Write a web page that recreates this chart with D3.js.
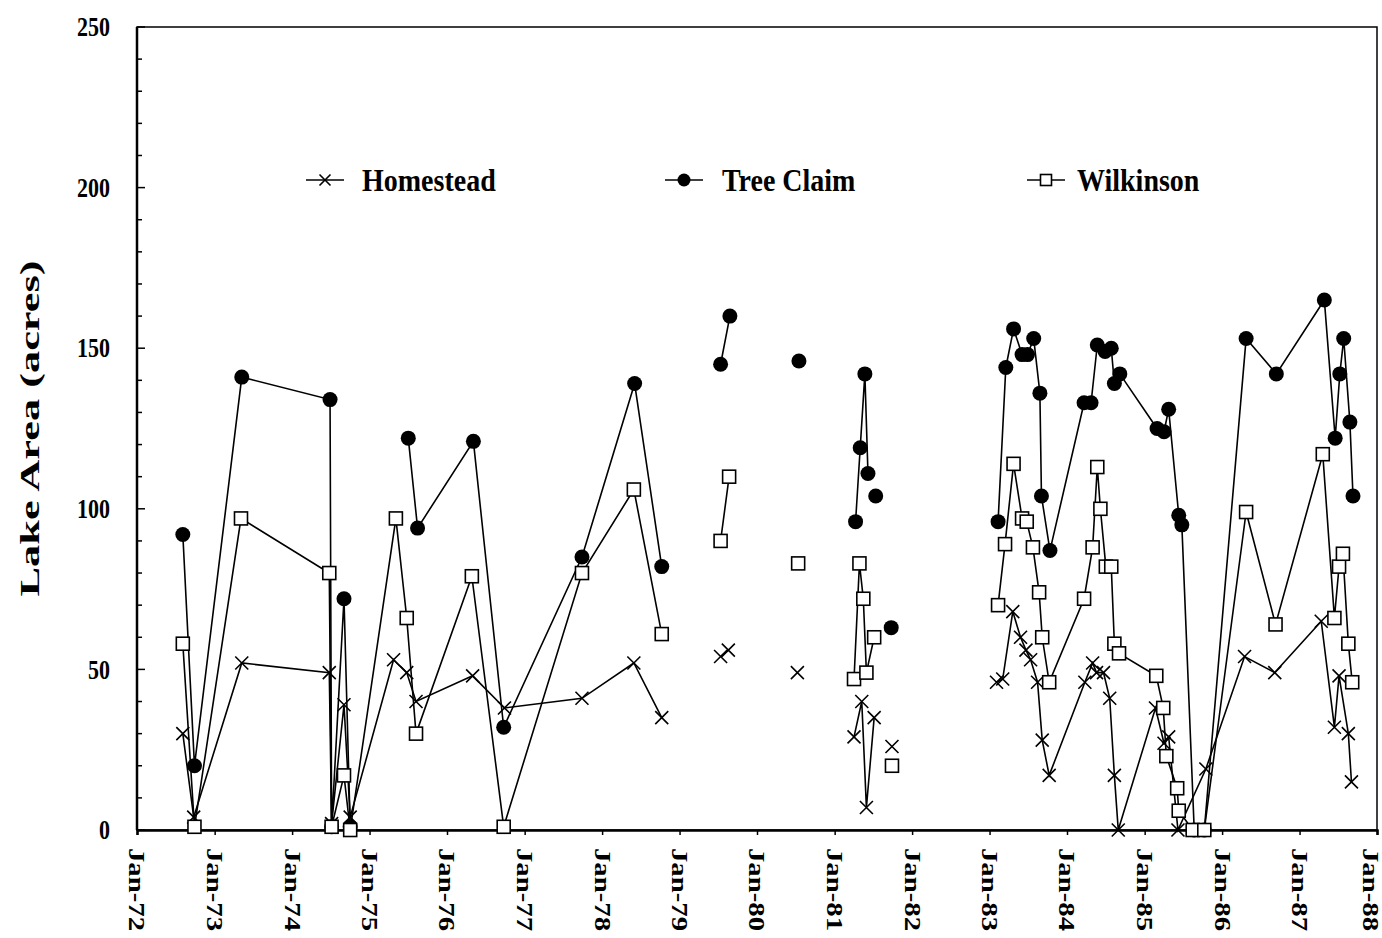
<!DOCTYPE html>
<html>
<head>
<meta charset="utf-8">
<script src="https://cdn.jsdelivr.net/npm/d3@7"></script>
<style>
  body { margin: 0; background: #fff; }
  text { font-family: "Liberation Serif", "Times New Roman", serif; font-weight: bold; fill: #000; }
</style>
</head>
<body>
<div id="chart"></div>
<script>
var width = 1382;
var height = 938;

// survey dates as decimal years, null = gap in the line
var homesteadDates = [1972.59, 1972.73, 1973.35, 1974.48, 1974.51, 1974.67, 1974.75, 1975.31, 1975.48, 1975.60, 1976.33, 1976.74, 1977.74, 1978.41, 1978.77, null,
  1979.53, 1979.63, null,
  1980.52, null,
  1981.25, 1981.35, 1981.41, 1981.51, null,
  1981.74, null,
  1983.09, 1983.17, 1983.30, 1983.40, 1983.47, 1983.53, 1983.62, 1983.68, 1983.77, 1984.23, 1984.33, 1984.38, 1984.47, 1984.55, 1984.61, 1984.66,
  1985.14, 1985.25, 1985.31, 1985.43, 1985.79, 1986.29, 1986.68, 1987.28, 1987.45, 1987.51, 1987.63, 1987.67];
var homesteadAcres = [30, 4, 52, 49, 2, 39, 4, 53, 49, 40, 48, 38, 41, 52, 35, null,
  54, 56, null,
  49, null,
  29, 40, 7, 35, null,
  26, null,
  46, 47, 68, 60, 56, 53, 46, 28, 17, 46, 52, 49, 49, 41, 17, 0,
  38, 27, 29, 0, 19, 54, 49, 65, 32, 48, 30, 15];

var treeClaimDates = [1972.59, 1972.74, 1973.35, 1974.49, 1974.51, 1974.67, 1974.75, null,
  1975.50, 1975.62, 1976.34, 1976.73, 1977.74, 1978.42, 1978.77, null,
  1979.53, 1979.65, null,
  1980.54, null,
  1981.27, 1981.33, 1981.39, 1981.43, null,
  1981.53, null,
  1981.73, null,
  1983.11, 1983.21, 1983.31, 1983.42, 1983.49, 1983.57, 1983.65, 1983.67, 1983.78, 1984.22, 1984.31, 1984.39, 1984.49, 1984.57, 1984.61, 1984.68,
  1985.16, 1985.25, 1985.31, 1985.44, 1985.48, 1985.64, 1985.77, 1986.31, 1986.70, 1987.32, 1987.46, 1987.52, 1987.57, 1987.65, 1987.69];
var treeClaimAcres = [92, 20, 141, 134, 1, 72, 1, null,
  122, 94, 121, 32, 85, 139, 82, null,
  145, 160, null,
  146, null,
  96, 119, 142, 111, null,
  104, null,
  63, null,
  96, 144, 156, 148, 148, 153, 136, 104, 87, 133, 133, 151, 149, 150, 139, 142,
  125, 124, 131, 98, 95, 0, 0, 153, 142, 165, 122, 142, 153, 127, 104];

var wilkinsonDates = [1972.59, 1972.74, 1973.34, 1974.48, 1974.51, 1974.67, 1974.75, 1975.34, 1975.48, 1975.60, 1976.32, 1976.73, 1977.74, 1978.41, 1978.77, null,
  1979.53, 1979.64, null,
  1980.53, null,
  1981.25, 1981.32, 1981.37, 1981.41, 1981.51, null,
  1981.74, null,
  1983.11, 1983.20, 1983.31, 1983.42, 1983.48, 1983.56, 1983.64, 1983.68, 1983.77, 1984.22, 1984.33, 1984.39, 1984.43, 1984.50, 1984.57, 1984.61, 1984.67,
  1985.15, 1985.24, 1985.28, 1985.42, 1985.44, 1985.62, 1985.77, 1986.31, 1986.69, 1987.30, 1987.45, 1987.51, 1987.56, 1987.63, 1987.68];
var wilkinsonAcres = [58, 1, 97, 80, 1, 17, 0, 97, 66, 30, 79, 1, 80, 106, 61, null,
  90, 110, null,
  83, null,
  47, 83, 72, 49, 60, null,
  20, null,
  70, 89, 114, 97, 96, 88, 74, 60, 46, 72, 88, 113, 100, 82, 82, 58, 55,
  48, 38, 23, 13, 6, 0, 0, 99, 64, 117, 66, 82, 86, 58, 46];

var seriesNames = ["Homestead", "Tree Claim", "Wilkinson"];
var yearTicks = d3.range(1972, 1989);
var acreTicks = [0, 50, 100, 150, 200, 250];

function toDate(y) {
  var yr = Math.floor(y);
  var s = new Date(yr, 0, 1), e = new Date(yr + 1, 0, 1);
  return new Date(+s + (y - yr) * (e - s));
}

function rows(dates, acres) {
  return dates.map(function (d, i) {
    return d == null ? null : { date: toDate(d), acres: acres[i] };
  });
}

var series = [
  { name: seriesNames[0], marker: "cross", data: rows(homesteadDates, homesteadAcres) },
  { name: seriesNames[1], marker: "dot", data: rows(treeClaimDates, treeClaimAcres) },
  { name: seriesNames[2], marker: "square", data: rows(wilkinsonDates, wilkinsonAcres) }
];

var plotLeft = 137, plotRight = 1377, plotTop = 27, plotBottom = 830;

var x = d3.scaleTime()
  .domain([new Date(1972, 0, 1), new Date(1988, 0, 1)])
  .range([plotLeft, plotRight]);

var y = d3.scaleLinear()
  .domain([0, 250])
  .range([plotBottom, plotTop]);

var svg = d3.select("#chart")
  .append("svg")
  .attr("width", width)
  .attr("height", height);

// frame
svg.append("rect")
  .attr("x", plotLeft)
  .attr("y", plotTop)
  .attr("width", plotRight - plotLeft)
  .attr("height", plotBottom - plotTop)
  .attr("fill", "none")
  .attr("stroke", "#000")
  .attr("stroke-width", 1.5);

// y axis, ticks pointing inward
var yAxis = svg.append("g")
  .attr("transform", "translate(" + plotLeft + ",0)");

yAxis.selectAll("line.minor")
  .data(d3.range(0, 251, 10))
  .enter()
  .append("line")
  .attr("x1", 0)
  .attr("x2", function (d) { return d % 50 == 0 ? 8 : 5; })
  .attr("y1", function (d) { return y(d); })
  .attr("y2", function (d) { return y(d); })
  .attr("stroke", "#000")
  .attr("stroke-width", 1.5);

yAxis.append("line")
  .attr("y1", plotTop)
  .attr("y2", plotBottom)
  .attr("stroke", "#000")
  .attr("stroke-width", 2.5);

// the scanned labels are a bit taller than wide
yAxis.selectAll("text")
  .data(acreTicks)
  .enter()
  .append("text")
  .attr("transform", function (d) { return "translate(-27," + y(d) + ") scale(1,1.2)"; })
  .attr("dy", "0.35em")
  .attr("text-anchor", "end")
  .attr("font-size", 22)
  .text(function (d) { return d; });

svg.append("text")
  .attr("transform", "translate(39," + (plotTop + plotBottom) / 2 + ") rotate(-90)")
  .attr("text-anchor", "middle")
  .attr("font-size", 28)
  .attr("textLength", 336)
  .attr("lengthAdjust", "spacingAndGlyphs")
  .text("Lake Area (acres)");

// x axis
var xAxis = d3.axisBottom(x)
  .tickValues(yearTicks.map(function (yr) { return new Date(yr, 0, 1); }))
  .tickSize(5)
  .tickFormat(d3.timeFormat("Jan-%y"));

var gx = svg.append("g")
  .attr("transform", "translate(0," + plotBottom + ")")
  .call(xAxis);

gx.select(".domain").attr("stroke-width", 2.5);
gx.selectAll(".tick line").attr("stroke-width", 1.5);
gx.selectAll(".tick text")
  .attr("font-size", 23)
  .attr("font-family", "Liberation Serif, Times New Roman, serif")
  .attr("font-weight", "bold")
  .attr("text-anchor", "start")
  .attr("transform", function (d, i) {
    // keep the last label inside the page edge
    return i == yearTicks.length - 1 ? "translate(-6,0) rotate(90)" : "rotate(90)";
  })
  .attr("x", 18)
  .attr("y", 0)
  .attr("dy", "0.35em")
  .attr("textLength", 83)
  .attr("lengthAdjust", "spacingAndGlyphs");

// lines and markers
var line = d3.line()
  .defined(function (d) { return d != null; })
  .x(function (d) { return x(d.date); })
  .y(function (d) { return y(d.acres); });

function drawMarker(g, type, px, py, size) {
  if (type == "cross") {
    g.append("path")
      .attr("d", "M" + (px - size) + "," + (py - size) + "L" + (px + size) + "," + (py + size) +
        "M" + (px - size) + "," + (py + size) + "L" + (px + size) + "," + (py - size))
      .attr("stroke", "#000")
      .attr("stroke-width", 1.6)
      .attr("fill", "none");
  } else if (type == "dot") {
    g.append("circle")
      .attr("cx", px)
      .attr("cy", py)
      .attr("r", size)
      .attr("fill", "#000");
  } else {
    g.append("rect")
      .attr("x", px - size)
      .attr("y", py - size)
      .attr("width", size * 2)
      .attr("height", size * 2)
      .attr("fill", "#fff")
      .attr("stroke", "#000")
      .attr("stroke-width", 1.6);
  }
}

var markerSize = { cross: 6.5, dot: 7.5, square: 6.5 };

series.forEach(function (s) {
  var g = svg.append("g").attr("class", "series");
  g.append("path")
    .datum(s.data)
    .attr("d", line)
    .attr("fill", "none")
    .attr("stroke", "#000")
    .attr("stroke-width", 1.6);
  s.data.forEach(function (d) {
    if (d == null || d.acres == null) return;
    drawMarker(g, s.marker, x(d.date), y(d.acres), markerSize[s.marker]);
  });
});

// legend
var legendItems = [
  { name: seriesNames[0], marker: "cross", x: 306, textX: 362 },
  { name: seriesNames[1], marker: "dot", x: 665, textX: 722 },
  { name: seriesNames[2], marker: "square", x: 1027, textX: 1077 }
];
var legendY = 180;

legendItems.forEach(function (item) {
  var g = svg.append("g").attr("class", "legend");
  g.append("line")
    .attr("x1", item.x)
    .attr("x2", item.x + 38)
    .attr("y1", legendY)
    .attr("y2", legendY)
    .attr("stroke", "#000")
    .attr("stroke-width", 1.6);
  drawMarker(g, item.marker, item.x + 19, legendY, item.marker == "dot" ? 6.5 : 5.5);
  g.append("text")
    .attr("transform", "translate(" + item.textX + "," + legendY + ") scale(1,1.1)")
    .attr("dy", "0.35em")
    .attr("font-size", 28)
    .text(item.name);
});
</script>
</body>
</html>
